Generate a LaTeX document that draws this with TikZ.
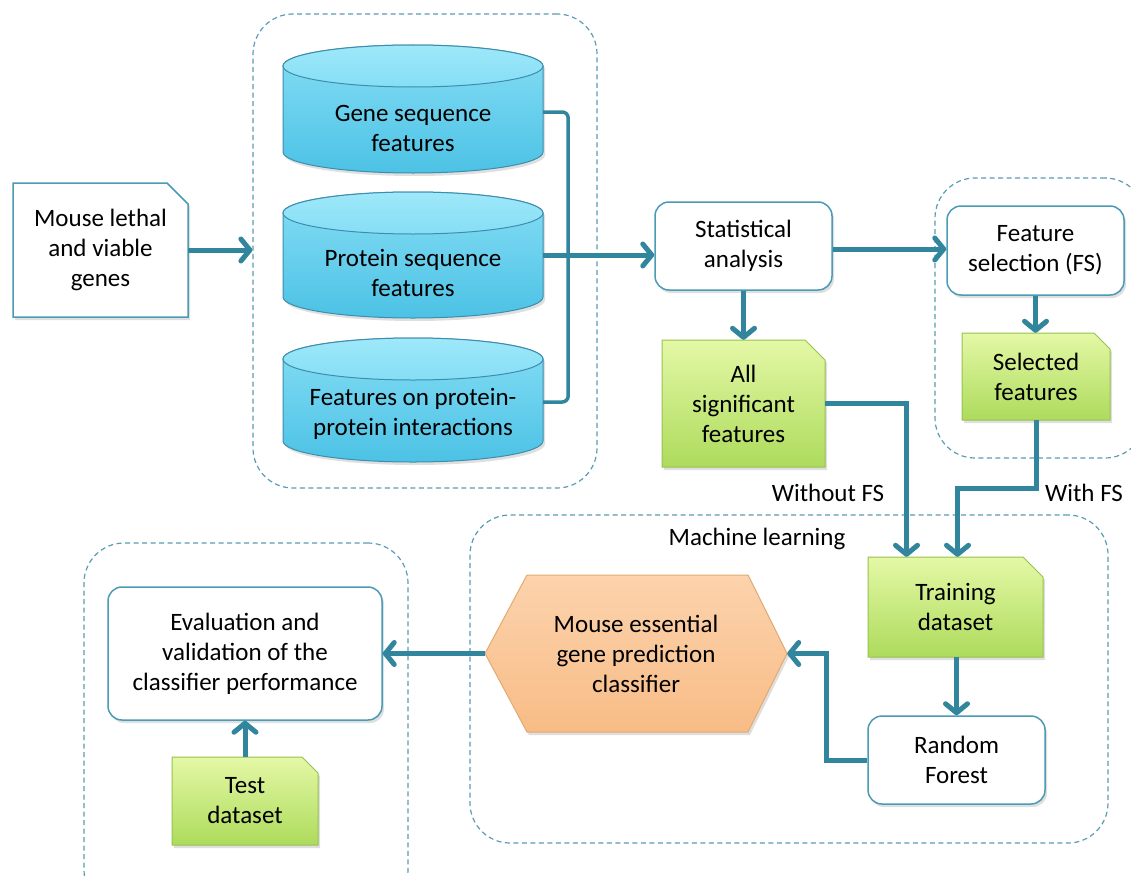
\documentclass[tikz,border=0pt]{standalone}
\usepackage{fontspec}
\setmainfont{Carlito}
\usetikzlibrary{arrows.meta,shadows,calc}

\definecolor{conn}{HTML}{31859C}
\definecolor{edge}{HTML}{4A9BB5}
\definecolor{dashc}{HTML}{5A9CB5}
\definecolor{cyltop}{HTML}{9EE8F9}
\definecolor{cylmid}{HTML}{86DEF5}
\definecolor{cylbot}{HTML}{4CC2E5}
\definecolor{cyledge}{HTML}{3C8DAE}
\definecolor{grtop}{HTML}{E4F8A6}
\definecolor{grbot}{HTML}{ADDB5C}
\definecolor{gredge}{HTML}{98C24E}
\definecolor{ortop}{HTML}{FCD3AD}
\definecolor{orbot}{HTML}{F8BC86}
\definecolor{oredge}{HTML}{E3AA72}

\tikzset{
  txt/.style={font=\fontsize{25}{30}\selectfont, align=center, inner sep=0pt, text=black},
  softshadow/.style={drop shadow={opacity=0.25, shadow xshift=2pt, shadow yshift=-3pt}},
  roundbox/.style={draw=edge, line width=1.5pt, fill=white, rounded corners=14pt, softshadow, txt},
  group/.style={draw=dashc, line width=1.2pt, dash pattern=on 5pt off 3.5pt, rounded corners=40pt},
  docwhite/.style={draw=edge, line width=1.5pt, fill=white, softshadow},
  docgreen/.style={draw=gredge, line width=1pt, top color=grtop, bottom color=grbot, softshadow},
  cylbody/.style={draw=cyledge, line width=1pt, top color=cylmid, bottom color=cylbot, softshadow},
  cyllid/.style={draw=cyledge, line width=1pt, top color=cyltop, bottom color=cylmid},
  hexshape/.style={draw=oredge, line width=1pt, top color=ortop, bottom color=orbot, softshadow},
  flow/.style={draw=conn, line width=5pt, -{Straight Barb[length=9pt,width=22pt,round]}},
  bracket/.style={draw=conn, line width=3.5pt, rounded corners=6pt},
}

% node spanning the box (x1,y1)-(x2,y2), y measured downwards
\newcommand\spannode[7][]{%
  \node[inner sep=0pt, minimum width={(#5-#3)*1pt}, minimum height={(#6-#4)*1pt}, #1]
    (#2) at ({(#3+#5)/2},{-(#4+#6)/2}) {#7};}

% sheet with a cut top-right corner
\newcommand\docshape[6]{%
  \path[#1] (#2,-#3) -- ({#4-#6},-#3) -- (#4,{-#3-#6}) -- (#4,-#5) -- (#2,-#5) -- cycle;}

% upright cylinder between x1..x2, y1..y2
\newcommand\cylshape[4]{%
  \path[cylbody] (#1,{-#2-21}) -- (#1,{-#4+21})
    arc[start angle=180, end angle=360, x radius={(#3-#1)/2*1pt}, y radius=21pt]
    -- (#3,{-#2-21})
    arc[start angle=0, end angle=180, x radius={(#3-#1)/2*1pt}, y radius=21pt] -- cycle;
  \path[cyllid] ({(#1+#3)/2},{-#2-21}) ellipse[x radius={(#3-#1)/2*1pt}, y radius=21pt];}

\begin{document}
\begin{tikzpicture}[x=1pt,y=1pt]
\path[use as bounding box, clip] (0,0) rectangle (1131,-875);
\fill[white] (0,0) rectangle (1131,-875);

% dashed groups
\spannode[group]{grpData}{253}{14}{597}{488}{}
\spannode[group]{grpFS}{935}{178}{1145}{458}{}
\spannode[group]{grpML}{470}{515}{1108}{843}{}
\spannode[group]{grpEval}{84}{543}{408}{910}{}

% input genes
\docshape{docwhite}{13}{183}{188}{317}{21}
\spannode[txt]{genes}{13}{183}{188}{317}{Mouse lethal\\and viable\\genes}

% feature databases
\cylshape{283}{45}{543}{173}
\spannode{cylA}{283}{45}{543}{173}{}
\node[txt] (cylAtext) at (413,-128) {Gene sequence\\features};
\cylshape{283}{192}{543}{318}
\spannode{cylB}{283}{192}{543}{318}{}
\node[txt] (cylBtext) at (413,-273) {Protein sequence\\features};
\cylshape{283}{338}{543}{462}
\spannode{cylC}{283}{338}{543}{462}{}
\node[txt] (cylCtext) at (413,-414) {Features on protein-\\protein interactions};

% analysis and selection
\spannode[roundbox]{stat}{655}{202}{832}{290}{Statistical\\analysis}
\spannode[roundbox]{fs}{947}{206}{1124}{295}{Feature\\selection (FS)}

\docshape{docgreen}{662}{340}{825}{467}{20}
\spannode[txt]{allsig}{662}{340}{825}{467}{All\\significant\\features}
\docshape{docgreen}{962}{333}{1110}{420}{16}
\spannode[txt]{sel}{962}{333}{1110}{420}{Selected\\features}

% machine learning
\docshape{docgreen}{868}{557}{1043}{657}{20}
\spannode[txt]{train}{868}{557}{1043}{657}{Training\\dataset}
\spannode[roundbox]{rf}{868}{716}{1045}{804}{Random\\Forest}
\path[hexshape] (527,-575) -- (748,-575) -- (787,-653.5) -- (748,-732) -- (527,-732) -- (485,-653.5) -- cycle;
\spannode[txt]{hex}{485}{575}{787}{732}{Mouse essential\\gene prediction\\classifier}

% evaluation
\spannode[roundbox]{eval}{108}{587}{382}{720}{Evaluation and\\validation of the\\classifier performance}
\docshape{docgreen}{172}{757}{318}{845}{16}
\spannode[txt]{test}{172}{757}{318}{845}{Test\\dataset}

% labels
\node[txt] (lblML) at (757,-539) {Machine learning};
\node[txt] (lblNoFS) at (828,-493) {Without FS};
\node[txt] (lblFS) at (1084,-493) {With FS};

% connectors
\coordinate (statout) at ([yshift=-3pt]stat.east);
\draw[flow] (genes.east) -- (grpData.west |- genes.east);
\draw[bracket] ([yshift=-3pt]cylA.east) -- ++(25,0) |- ([yshift=-2pt]cylC.east);
\draw[flow] (cylB.east) -- (stat.west |- cylB.east);
\draw[flow] (statout) -- (fs.west |- statout);
\draw[flow] (stat.south) -- (allsig.north);
\draw[flow] (fs.south) -- (sel.north -| fs.south);
\draw[flow] (allsig.east) -| ([xshift=-49pt]train.north);
\draw[flow] (sel.south) -- ++(0,-68) -| ([xshift=2pt]train.north);
\draw[flow] ([xshift=1pt]train.south) -- ([xshift=1pt]train.south |- rf.north);
\draw[flow] (rf.west) -- ++(-41,0) |- (hex.east);
\draw[flow] (hex.west) -- (eval.east |- hex.west);
\draw[flow] (test.north) -- (eval.south);
\end{tikzpicture}
\end{document}
